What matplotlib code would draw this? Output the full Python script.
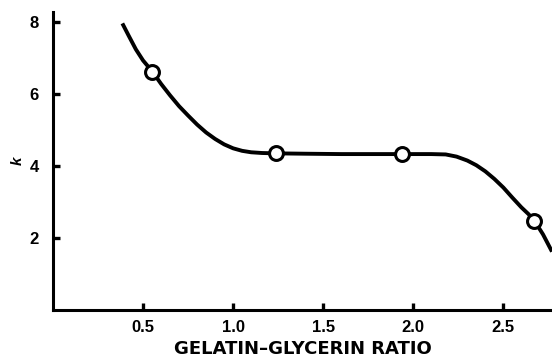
import matplotlib.pyplot as plt

# k versus gelatin-glycerin ratio
curve_x = [0.385, 0.42, 0.46, 0.50, 0.552, 0.60, 0.65, 0.70, 0.75, 0.80, 0.85, 0.90, 0.95,
           1.00, 1.05, 1.10, 1.16, 1.237, 1.40, 1.60, 1.80, 1.94, 2.10, 2.18, 2.24, 2.30,
           2.35, 2.40, 2.45, 2.50, 2.55, 2.60, 2.64, 2.672, 2.72, 2.77]
curve_y = [7.96, 7.62, 7.24, 6.93, 6.62, 6.28, 5.96, 5.66, 5.40, 5.15, 4.93, 4.75, 4.60,
           4.49, 4.42, 4.38, 4.36, 4.35, 4.34, 4.33, 4.33, 4.33, 4.33, 4.32, 4.26, 4.15,
           4.02, 3.85, 3.64, 3.40, 3.12, 2.85, 2.66, 2.48, 2.10, 1.62]

ratio = [0.552, 1.237, 1.94, 2.672]
k = [6.62, 4.35, 4.33, 2.48]

xticks = [0.5, 1.0, 1.5, 2.0, 2.5]
yticks = [2, 4, 6, 8]

plt.rcParams['font.family'] = ['Liberation Sans', 'DejaVu Sans']

fig = plt.figure(figsize=(5.52, 3.6), dpi=100)
ax = fig.add_axes([0.096, 0.139, 0.904, 0.828])

ax.plot(curve_x, curve_y, color='black', lw=2.8, solid_capstyle='butt',
        solid_joinstyle='round', zorder=2)
ax.plot(ratio, k, linestyle='none', marker='o', ms=10, mfc='white', mec='black',
        mew=2.2, zorder=3)

ax.set_xlim(0, 2.77)
ax.set_ylim(0, 8.28)
ax.set_xticks(xticks)
ax.set_xticklabels(['0.5', '1.0', '1.5', '2.0', '2.5'])
ax.set_yticks(yticks)

for side in ['top', 'right']:
    ax.spines[side].set_visible(False)
for side in ['left', 'bottom']:
    ax.spines[side].set_linewidth(2.2)

ax.tick_params(direction='in', length=5, width=2.4, labelsize=12)
ax.tick_params(axis='x', pad=7)
ax.tick_params(axis='y', pad=10)
for lbl in ax.get_xticklabels() + ax.get_yticklabels():
    lbl.set_fontweight('bold')

ax.set_xlabel('GELATIN\u2013GLYCERIN RATIO', fontsize=13, fontweight='bold',
              family='DejaVu Sans', labelpad=4)
ax.set_ylabel('k', fontsize=11, fontstyle='italic', fontweight='bold', labelpad=4)

fig.savefig('out.png', dpi=100)
